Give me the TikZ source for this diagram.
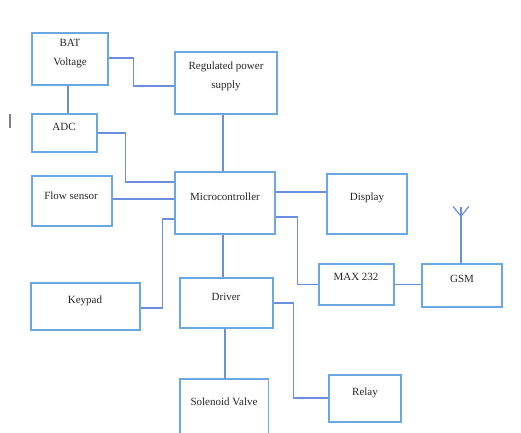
\documentclass[tikz,border=0pt]{standalone}
\usepackage{fontspec}
\setmainfont{Liberation Serif}
\definecolor{boxblue}{RGB}{105,168,226}
\definecolor{lineblue}{RGB}{108,142,222}
\begin{document}
\begin{tikzpicture}[x=1pt,y=-1pt,
  blk/.style={draw=boxblue,line width=1.4pt,minimum width=#1,inner sep=0pt},
  conn/.style={draw=lineblue,line width=1.2pt},
  lbl/.style={font=\fontsize{11}{19}\selectfont,align=center,inner sep=0pt,text=black!85}]
\useasboundingbox (0,0) rectangle (521,432);
% boxes
\node[blk=76pt,minimum height=52pt] (bat) at (70,59) {};
\node[blk=102pt,minimum height=62pt] (reg) at (226,83) {};
\node[blk=65pt,minimum height=38pt] (adc) at (64.5,133) {};
\node[blk=80pt,minimum height=50pt] (flow) at (72,201) {};
\node[blk=100pt,minimum height=62pt] (micro) at (225,203) {};
\node[blk=109pt,minimum height=47pt] (keypad) at (85.5,306.5) {};
\node[blk=93pt,minimum height=50pt] (driver) at (226.5,303) {};
\node[blk=80pt,minimum height=60pt] (display) at (367,204) {};
\node[blk=75pt,minimum height=41pt] (max) at (356.5,284.5) {};
\node[blk=80pt,minimum height=43pt] (gsm) at (462,285.5) {};
\node[blk=72pt,minimum height=47pt] (relay) at (365,398.5) {};
\node[minimum width=88pt,minimum height=62pt,inner sep=0pt] (sol) at (224,410) {};
\draw[draw=boxblue,line width=1.4pt] (sol.south west) -- (sol.north west) -- (sol.north east) -- (sol.south east);
% labels
\node[lbl] (batT) at (70,54) {BAT\\Voltage};
\node[lbl] (regT) at (226,76) {Regulated power\\supply};
\node[lbl] (adcT) at (64,127) {ADC};
\node[lbl] (flowT) at (71,196) {Flow sensor};
\node[lbl] (microT) at (225,197) {Microcontroller};
\node[lbl] (displayT) at (367,198) {Display};
\node[lbl] (keypadT) at (85,301) {Keypad};
\node[lbl] (driverT) at (226,297) {Driver};
\node[lbl] (maxT) at (356,277) {MAX 232};
\node[lbl] (gsmT) at (462,279) {GSM};
\node[lbl] (relayT) at (365,393) {Relay};
\node[lbl] (solT) at (224,402) {Solenoid Valve};
% connectors
\draw[conn] ([yshift=1pt]bat.east) -- ++(25,0) |- ([yshift=-3pt]reg.west);
\draw[conn] ([xshift=-2pt]bat.south) -- ([xshift=-2pt]bat.south |- adc.north);
\draw[conn] (adc.east) -- ++(28,0) |- ([yshift=21pt]micro.west);
\draw[conn] ([xshift=-3pt]reg.south) -- ([xshift=-3pt]reg.south |- micro.north);
\draw[conn] ([yshift=2pt]flow.east) -- ([yshift=2pt]flow.east -| micro.west);
\draw[conn] ([yshift=-1.5pt]keypad.east) -- ++(22,0) |- ([yshift=-16pt]micro.west);
\draw[conn] ([xshift=-2pt]micro.south) -- ([xshift=-2pt]micro.south |- driver.north);
\draw[conn] ([yshift=11pt]micro.east) -- ([yshift=11pt]micro.east -| display.west);
\draw[conn] ([yshift=-14pt]micro.east) -- ++(22,0) |- (max.west);
\draw[conn] (max.east) -- (max.east -| gsm.west);
\draw[conn] ([xshift=-1pt]gsm.north) -- ++(0,-56) coordinate (ant);
\draw[conn] ([xshift=-8pt,yshift=1pt]ant) -- ([yshift=-9pt]ant) -- ([xshift=8pt,yshift=1pt]ant);
\draw[conn] (driver.east) -- ++(20,0) |- ([yshift=0.5pt]relay.west);
\draw[conn] ([xshift=-1.5pt]driver.south) -- ([xshift=-1.5pt]driver.south |- sol.north);
% stray mark
\coordinate (markA) at (10,114);
\coordinate (markB) at (10,128);
\draw[gray,line width=1.2pt] (markA) -- (markB);
\end{tikzpicture}
\end{document}
